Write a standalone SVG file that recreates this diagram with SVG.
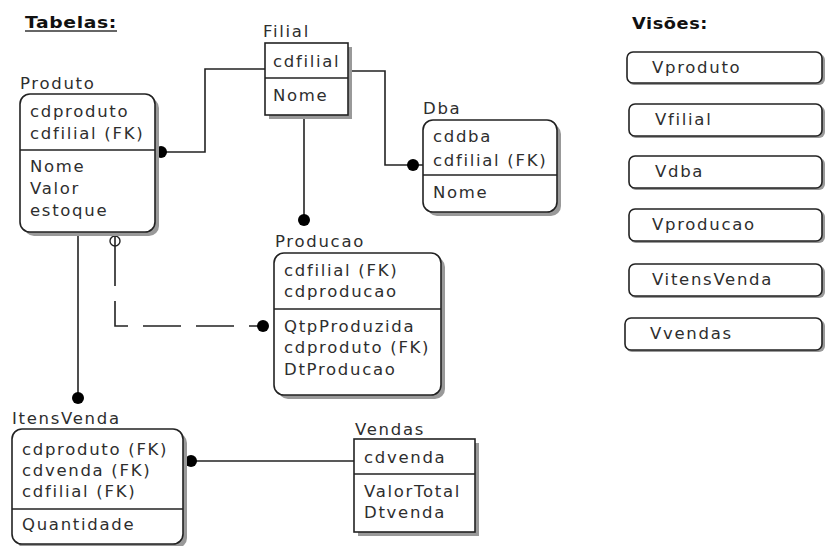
<svg xmlns="http://www.w3.org/2000/svg" width="825" height="546" viewBox="0 0 825 546">
<style>
text{font-family:"DejaVu Sans","Liberation Sans",sans-serif;font-size:16.5px;fill:#2e2e2e;letter-spacing:1.7px}
.h{font-weight:bold;font-size:15px;letter-spacing:0.5px;fill:#111}
.box{fill:#fff;stroke:#222;stroke-width:1.6}
.sh{fill:#999}
.div{stroke:#222;stroke-width:1.6}
.ln{fill:none;stroke:#222;stroke-width:1.6}
.dot{fill:#000}
</style>
<rect width="825" height="546" fill="#fff"/>
<text class="h" x="25" y="28" textLength="92" lengthAdjust="spacingAndGlyphs">Tabelas:</text>
<line x1="25" y1="31" x2="117" y2="31" stroke="#333" stroke-width="1.5"/>
<text class="h" x="632" y="29" textLength="76" lengthAdjust="spacingAndGlyphs">Visões:</text>

<g id="connectors">
<path class="ln" d="M265 69 H205 V152 H155"/>
<circle class="dot" cx="161" cy="152" r="6"/>
<path class="ln" d="M348 71 H385 V165 H423"/>
<circle class="dot" cx="413" cy="165" r="6"/>
<path class="ln" d="M304 115 V221"/>
<circle class="dot" cx="304" cy="220" r="6"/>
<path class="ln" d="M78 232 V398"/>
<circle class="dot" cx="78" cy="398" r="6"/>
<path class="ln" d="M115 248 V326 H262" stroke-dasharray="38 15"/>
<circle cx="115" cy="241" r="5" fill="#fff" stroke="#222" stroke-width="1.4"/>
<line class="ln" x1="115" y1="232" x2="115" y2="248"/>
<circle class="dot" cx="263" cy="326" r="6"/>
<path class="ln" d="M183 461 H354"/>
<circle class="dot" cx="191" cy="461" r="6"/>
</g>

<g id="produto">
<text x="20" y="89">Produto</text>
<rect class="sh" x="24" y="98" width="135" height="138" rx="10"/>
<rect class="box" x="20" y="94" width="135" height="138" rx="10"/>
<line class="div" x1="20" y1="150" x2="155" y2="150"/>
<text x="30" y="117">cdproduto</text>
<text x="30" y="139">cdfilial (FK)</text>
<text x="30" y="172">Nome</text>
<text x="30" y="194">Valor</text>
<text x="30" y="216">estoque</text>
</g>

<g id="filial">
<text x="263" y="37">Filial</text>
<rect class="sh" x="269" y="47" width="83" height="72"/>
<rect class="box" x="265" y="43" width="83" height="72"/>
<line class="div" x1="265" y1="78" x2="348" y2="78"/>
<text x="273" y="67">cdfilial</text>
<text x="273" y="101">Nome</text>
</g>

<g id="dba">
<text x="423" y="114">Dba</text>
<rect class="sh" x="427" y="124" width="134" height="92" rx="10"/>
<rect class="box" x="423" y="120" width="134" height="92" rx="10"/>
<line class="div" x1="423" y1="175" x2="557" y2="175"/>
<text x="433" y="142">cddba</text>
<text x="433" y="166">cdfilial (FK)</text>
<text x="433" y="198">Nome</text>
</g>

<g id="producao">
<text x="275" y="247">Producao</text>
<rect class="sh" x="278" y="257" width="167" height="142" rx="10"/>
<rect class="box" x="274" y="253" width="167" height="142" rx="10"/>
<line class="div" x1="274" y1="309" x2="441" y2="309"/>
<text x="284" y="276">cdfilial (FK)</text>
<text x="284" y="297">cdproducao</text>
<text x="284" y="332">QtpProduzida</text>
<text x="284" y="353">cdproduto (FK)</text>
<text x="284" y="375">DtProducao</text>
</g>

<g id="itensvenda">
<text x="12" y="424">ItensVenda</text>
<rect class="sh" x="16" y="433" width="171" height="115" rx="10"/>
<rect class="box" x="12" y="429" width="171" height="115" rx="10"/>
<line class="div" x1="12" y1="509" x2="183" y2="509"/>
<text x="22" y="455">cdproduto (FK)</text>
<text x="22" y="476">cdvenda (FK)</text>
<text x="22" y="497">cdfilial (FK)</text>
<text x="22" y="530">Quantidade</text>
</g>

<g id="vendas">
<text x="355" y="435">Vendas</text>
<rect class="sh" x="358" y="443" width="121" height="93"/>
<rect class="box" x="354" y="439" width="121" height="93"/>
<line class="div" x1="354" y1="474" x2="475" y2="474"/>
<text x="364" y="463">cdvenda</text>
<text x="364" y="497">ValorTotal</text>
<text x="364" y="518">Dtvenda</text>
</g>

<g id="vproduto">
<rect class="sh" x="628" y="54" width="197" height="31" rx="6"/>
<rect class="box" x="627" y="52" width="195" height="31" rx="6"/>
<text x="652" y="73">Vproduto</text>
</g>
<g id="vfilial">
<rect class="sh" x="630" y="106" width="195" height="32" rx="6"/>
<rect class="box" x="629" y="104" width="193" height="32" rx="6"/>
<text x="655" y="125">Vfilial</text>
</g>
<g id="vdba">
<rect class="sh" x="630" y="158" width="195" height="32" rx="6"/>
<rect class="box" x="629" y="156" width="193" height="32" rx="6"/>
<text x="655" y="177">Vdba</text>
</g>
<g id="vproducao">
<rect class="sh" x="630" y="211" width="195" height="32" rx="6"/>
<rect class="box" x="629" y="209" width="193" height="32" rx="6"/>
<text x="652" y="230">Vproducao</text>
</g>
<g id="vitensvenda">
<rect class="sh" x="630" y="266" width="195" height="32" rx="6"/>
<rect class="box" x="629" y="264" width="193" height="32" rx="6"/>
<text x="652" y="285">VitensVenda</text>
</g>
<g id="vvendas">
<rect class="sh" x="626" y="320" width="199" height="32" rx="6"/>
<rect class="box" x="625" y="318" width="197" height="32" rx="6"/>
<text x="650" y="339">Vvendas</text>
</g>
</svg>
